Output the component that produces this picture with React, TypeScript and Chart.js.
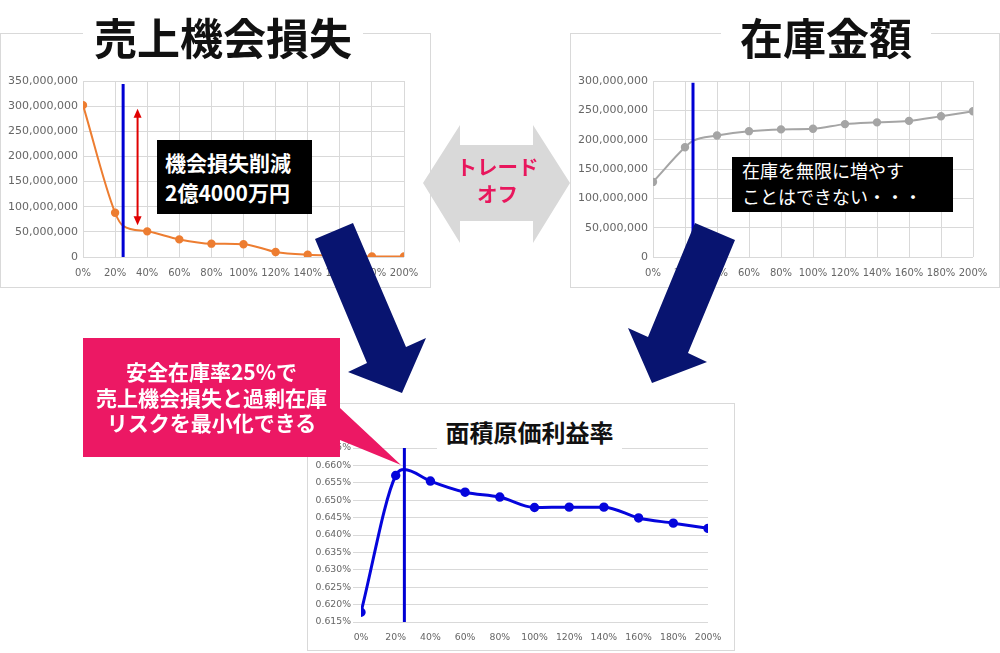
import { useEffect, useRef } from "react";
import { Chart, ChartConfiguration, registerables } from "chart.js";

Chart.register(...registerables);

// safety stock rate (%) on the x axis; 25% is the chosen rate
const stockRates = [0, 20, 25, 40, 60, 80, 100, 120, 140, 160, 180, 200];
const safetyRate = 25;
const percentTicks = [0, 20, 40, 60, 80, 100, 120, 140, 160, 180, 200];

// 売上機会損失 (yen)
const lostSales = [302e6, 88e6, 62e6, 51e6, 35e6, 26.5e6, 25.5e6, 10e6, 4.5e6, 3e6, 1e6, 1e6];
const lostSalesTicks = [0, 50e6, 100e6, 150e6, 200e6, 250e6, 300e6, 350e6];
const lostSalesMarkerTop = 344e6;
const reductionArrow = { x: 34, top: 295e6, bottom: 63e6 };

// 在庫金額 (yen)
const inventoryValue = [128e6, 187e6, 198e6, 207e6, 214.5e6, 217.5e6, 218.5e6, 226.5e6, 229.5e6, 232e6, 240e6, 248.5e6];
const inventoryTicks = [0, 50e6, 100e6, 150e6, 200e6, 250e6, 300e6];
const inventoryMarkerTop = 297e6;

// 面積原価利益率 (%)
const marginRate = [0.6178, 0.6571, 0.6588, 0.6555, 0.6523, 0.6509, 0.6479, 0.648, 0.648, 0.6449, 0.6434, 0.6419];
const marginTicks = [0.615, 0.62, 0.625, 0.63, 0.635, 0.64, 0.645, 0.65, 0.655, 0.66, 0.665];

const GRID = "#d9d9d9";
const TICK_COLOR = "#666666";
const MARKER_BLUE = "#0000d4";
const JP = "'Noto Sans CJK JP', 'Noto Sans', sans-serif";

Chart.defaults.font.family = "'DejaVu Sans', sans-serif";

const points = (values: number[]) => stockRates.map((x, i) => ({ x, y: values[i] }));
const hideSafetyPoint = (r: number) => (ctx: any) => (stockRates[ctx.dataIndex] === safetyRate ? 0 : r);
const fixedTicks = (list: number[]) => (scale: any) => {
  scale.ticks = list.map((value) => ({ value }));
};

const reductionArrowPlugin = {
  id: "reductionArrow",
  afterDatasetsDraw(chart: any) {
    const { ctx, scales } = chart;
    const px = scales.x.getPixelForValue(reductionArrow.x);
    const top = scales.y.getPixelForValue(reductionArrow.top);
    const bottom = scales.y.getPixelForValue(reductionArrow.bottom);
    ctx.save();
    ctx.strokeStyle = "#e00000";
    ctx.fillStyle = "#e00000";
    ctx.lineWidth = 2;
    ctx.beginPath();
    ctx.moveTo(px, top + 8);
    ctx.lineTo(px, bottom - 8);
    ctx.stroke();
    ctx.beginPath();
    ctx.moveTo(px, top);
    ctx.lineTo(px - 4, top + 9);
    ctx.lineTo(px + 4, top + 9);
    ctx.closePath();
    ctx.fill();
    ctx.beginPath();
    ctx.moveTo(px, bottom);
    ctx.lineTo(px - 4, bottom - 9);
    ctx.lineTo(px + 4, bottom - 9);
    ctx.closePath();
    ctx.fill();
    ctx.restore();
  },
};

function topChartConfig(
  values: number[],
  color: string,
  yTicks: number[],
  markerTop: number,
  extraPlugins: any[]
): ChartConfiguration<"line"> {
  const yFont = { family: "'DejaVu Sans', sans-serif", size: 11 };
  const xFont = { family: "'DejaVu Sans', sans-serif", size: 10 };
  return {
    type: "line",
    data: {
      datasets: [
        {
          data: [
            { x: safetyRate, y: 0 },
            { x: safetyRate, y: markerTop },
          ],
          borderColor: MARKER_BLUE,
          borderWidth: 3,
          pointRadius: 0,
        },
        {
          data: points(values),
          borderColor: color,
          backgroundColor: color,
          borderWidth: 2,
          pointRadius: hideSafetyPoint(3.2),
          cubicInterpolationMode: "monotone",
        },
      ],
    },
    options: {
      animation: false,
      responsive: true,
      maintainAspectRatio: false,
      layout: { padding: { left: 0, right: 27, top: 48, bottom: 0 } },
      plugins: { legend: { display: false }, tooltip: { enabled: false } },
      scales: {
        x: {
          type: "linear",
          min: 0,
          max: 200,
          afterBuildTicks: fixedTicks(percentTicks),
          afterFit: (s: any) => {
            s.height = 31;
          },
          grid: { color: GRID, drawTicks: false },
          border: { display: false },
          ticks: { font: xFont, color: TICK_COLOR, padding: 10, autoSkip: false, maxRotation: 0, callback: (v: any) => v + "%" },
        },
        y: {
          type: "linear",
          min: 0,
          max: yTicks[yTicks.length - 1],
          afterBuildTicks: fixedTicks(yTicks),
          afterFit: (s: any) => {
            s.width = 83;
          },
          grid: { color: GRID, drawTicks: false },
          border: { display: false },
          ticks: { font: yFont, color: TICK_COLOR, padding: 5, callback: (v: any) => Number(v).toLocaleString("en-US") },
        },
      },
    },
    plugins: extraPlugins,
  };
}

const lostSalesConfig = () => topChartConfig(lostSales, "#ed7d31", lostSalesTicks, lostSalesMarkerTop, [reductionArrowPlugin]);

const inventoryConfig = () => topChartConfig(inventoryValue, "#a5a5a5", inventoryTicks, inventoryMarkerTop, []);

const marginConfig = (): ChartConfiguration<"line"> => {
  const font = { family: "'DejaVu Sans', sans-serif", size: 9.3 };
  return {
    type: "line",
    data: {
      datasets: [
        {
          data: [
            { x: safetyRate, y: marginTicks[0] },
            { x: safetyRate, y: marginTicks[marginTicks.length - 1] },
          ],
          borderColor: MARKER_BLUE,
          borderWidth: 3,
          pointRadius: 0,
        },
        {
          data: points(marginRate),
          borderColor: "#0505dc",
          backgroundColor: "#0505dc",
          borderWidth: 3,
          pointRadius: hideSafetyPoint(3.2),
          cubicInterpolationMode: "monotone",
        },
      ],
    },
    options: {
      animation: false,
      responsive: true,
      maintainAspectRatio: false,
      layout: { padding: { left: 0, right: 27, top: 45, bottom: 0 } },
      plugins: { legend: { display: false }, tooltip: { enabled: false } },
      scales: {
        x: {
          type: "linear",
          min: 0,
          max: 200,
          afterBuildTicks: fixedTicks(percentTicks),
          afterFit: (s: any) => {
            s.height = 29;
          },
          grid: { display: false, drawTicks: false },
          border: { display: false },
          ticks: { font, color: TICK_COLOR, padding: 10, autoSkip: false, maxRotation: 0, callback: (v: any) => v + "%" },
        },
        y: {
          type: "linear",
          min: marginTicks[0],
          max: marginTicks[marginTicks.length - 1],
          afterBuildTicks: fixedTicks(marginTicks),
          afterFit: (s: any) => {
            s.width = 54;
          },
          grid: { color: GRID, drawTicks: true, tickLength: 8, tickColor: GRID },
          border: { display: false },
          ticks: { font, color: TICK_COLOR, padding: 2, callback: (v: any) => Number(v).toFixed(3) + "%" },
        },
      },
    },
  };
};

function ChartCanvas({ build, left, top, width, height }: { build: () => ChartConfiguration<"line">; left: number; top: number; width: number; height: number }) {
  const canvasRef = useRef<HTMLCanvasElement>(null);

  useEffect(() => {
    if (!canvasRef.current) return;
    const chart = new Chart(canvasRef.current, build());
    return () => chart.destroy();
  }, [build]);

  return (
    <>
      <div style={{ position: "absolute", left, top, width, height, border: `1px solid ${GRID}`, boxSizing: "border-box" }} />
      <div style={{ position: "absolute", left, top, width, height }}>
        <canvas ref={canvasRef} />
      </div>
    </>
  );
}

const abs = (left: number, top: number, width: number, height: number) => ({ position: "absolute" as const, left, top, width, height });

export default function App() {
  return (
    <div style={{ position: "absolute", left: 0, top: 0, width: 1000, height: 653, background: "#fff", overflow: "hidden", fontFamily: JP }}>
      <ChartCanvas build={lostSalesConfig} left={0} top={33} width={431} height={255} />
      <ChartCanvas build={inventoryConfig} left={570} top={33} width={430} height={255} />
      <ChartCanvas build={marginConfig} left={307} top={403} width={428} height={248} />

      <div style={{ ...abs(83, 12, 280, 48), background: "#fff", textAlign: "center", fontSize: 43, fontWeight: 700, lineHeight: "48px", color: "#111" }}>
        売上機会損失
      </div>
      <div style={{ ...abs(721, 12, 210, 48), background: "#fff", textAlign: "center", fontSize: 43, fontWeight: 700, lineHeight: "48px", color: "#111" }}>
        在庫金額
      </div>
      <div style={{ ...abs(437, 414, 185, 36), background: "#fff", textAlign: "center", fontSize: 24, fontWeight: 700, lineHeight: "36px", color: "#111" }}>
        面積原価利益率
      </div>

      <div style={{ ...abs(157, 140, 155, 74), background: "#000", color: "#fff", fontSize: 21, fontWeight: 700, lineHeight: "30px", padding: "7px 0 0 8px", boxSizing: "border-box" }}>
        <div>機会損失削減</div>
        <div>2億4000万円</div>
      </div>
      <div style={{ ...abs(732, 157, 221, 55), background: "#000", color: "#fff", fontSize: 18, fontWeight: 400, lineHeight: "25.7px", padding: "1px 0 0 10px", boxSizing: "border-box" }}>
        <div>在庫を無限に増やす</div>
        <div>ことはできない・・・</div>
      </div>

      <svg width={1000} height={653} style={{ position: "absolute", left: 0, top: 0 }}>
        <path d="M423,183 L460,125 V145 H533 V125 L570,183 L533,243 V221 H460 V243 Z" fill="#d9d9d9" />
        <path d="M315,239 L353,223 L406,347 L426,338 L402,393 L348,372 L367,363 Z" fill="#081470" />
        <path d="M695,223 L735,240 L688,353 L707,362 L652,383 L628,328 L648,337 Z" fill="#081470" />
        <path d="M83,338 H340 V408 L401,465 L340,440 V457 H83 Z" fill="#ec1864" />
      </svg>

      <div style={{ ...abs(440, 153, 115, 54), color: "#e8175d", fontSize: 20.5, fontWeight: 700, lineHeight: "26.6px", textAlign: "center" }}>
        <div>トレード</div>
        <div>オフ</div>
      </div>
      <div
        style={{
          ...abs(83, 338, 257, 119),
          color: "#fff",
          fontSize: 21,
          fontWeight: 700,
          lineHeight: "25.5px",
          textAlign: "center",
          display: "flex",
          flexDirection: "column",
          justifyContent: "center",
        }}
      >
        <div>安全在庫率25%で</div>
        <div>売上機会損失と過剰在庫</div>
        <div>リスクを最小化できる</div>
      </div>
    </div>
  );
}
